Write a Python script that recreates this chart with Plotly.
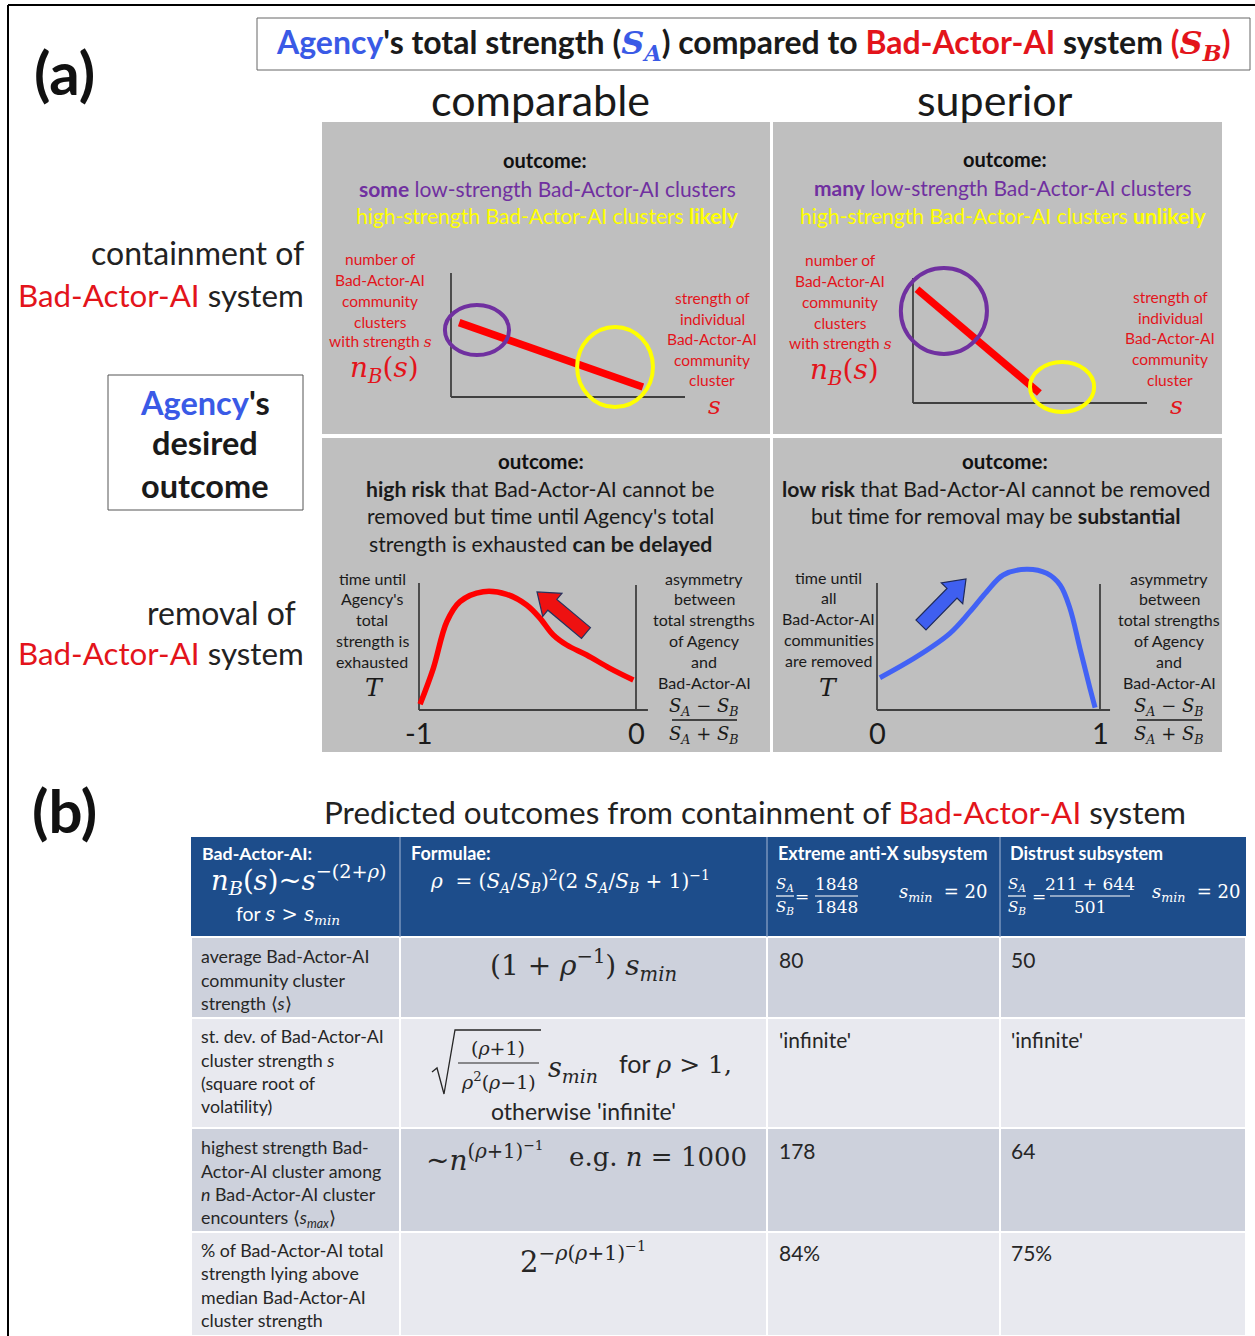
import math
import plotly.graph_objects as go

W, H = 1255, 1336
SANS = "Lato"
SERIF = "DejaVu Serif"
RED_T = "#e3141b"
RED = "#ff0000"
BLUE_T = "#3a5ae6"
BLUE = "#4262f5"
PURPLE = "#7030a0"
YELLOW = "#ffff00"
DARK = "#1a1a1a"
AXC = "#404040"
GRAY_PANEL = "#bfbfbf"
NAVY = "#1d4d8b"
ROW_DARK = "#cdd1dc"
ROW_LIGHT = "#e8e9ef"

# ---------------- data ----------------
# containment panels: n_B(s) vs s (schematic straight lines)
cmp_s = [0.35, 8.2]
cmp_nB = [6.0, 0.8]
sup_s = [0.17, 5.4]
sup_nB = [9.1, 0.8]
# highlight ellipses [x0, x1, y0, y1] in panel data units
cmp_low = [-0.26, 2.48, 3.38, 7.42]
cmp_high = [5.39, 8.63, -0.81, 5.65]
sup_low = [-0.52, 3.16, 3.92, 10.8]
sup_high = [5.0, 7.74, -0.72, 3.28]

# removal panels: T vs asymmetry (S_A-S_B)/(S_A+S_B)
cmp_asym = [-0.995, -0.934, -0.872, -0.811, -0.704, -0.596, -0.504, -0.442, -0.381, -0.319, -0.227, -0.120, -0.012]
cmp_T = [0.45, 3.28, 6.95, 8.53, 9.31, 9.11, 8.27, 7.22, 5.91, 5.12, 4.33, 3.28, 2.36]
sup_asym = [0.013, 0.178, 0.327, 0.417, 0.492, 0.566, 0.671, 0.761, 0.821, 0.865, 0.910, 0.955, 0.978]
sup_T = [2.54, 4.20, 6.04, 7.74, 9.31, 10.63, 11.08, 10.76, 9.84, 8.01, 4.86, 1.71, 0.18]
cmp_ticks = [-1, 0]
sup_ticks = [0, 1]

# table (b)
row_labels = [
    ["average Bad-Actor-AI", "community cluster", "strength ⟨<i>s</i>⟩"],
    ["st. dev. of Bad-Actor-AI", "cluster strength <i>s</i>", "(square root of", "volatility)"],
    ["highest strength Bad-", "Actor-AI cluster among", "<i>n</i> Bad-Actor-AI cluster", "encounters ⟨<i>s<sub>max</sub></i>⟩"],
    ["% of Bad-Actor-AI total", "strength lying above", "median Bad-Actor-AI", "cluster strength"],
]
extreme_vals = ["80", "'infinite'", "178", "84%"]
distrust_vals = ["50", "'infinite'", "64", "75%"]
extreme_ratio = ["1848", "1848"]
distrust_ratio = ["211 + 644", "501"]
s_min = [20, 20]

# ---------------- helpers ----------------
fig = go.Figure()
ann, shp = [], []


def t(x, y, text, size=18, color=DARK, anchor="center", family=SANS, bold=False):
    if bold:
        text = f"<b>{text}</b>"
    ann.append(dict(x=x / W, y=1 - y / H, xref="paper", yref="paper", text=text, showarrow=False,
                    xanchor=anchor, yanchor="middle", align=anchor if anchor != "center" else "center",
                    font=dict(size=size, color=color, family=family)))


def rect(x0, y0, x1, y1, fill=None, line=None, lw=1, layer="below"):
    shp.append(dict(type="rect", xref="paper", yref="paper", x0=x0 / W, x1=x1 / W,
                    y0=1 - y1 / H, y1=1 - y0 / H, fillcolor=fill or "rgba(0,0,0,0)",
                    line=dict(color=line or "rgba(0,0,0,0)", width=lw), layer=layer))


def seg(x0, y0, x1, y1, color, lw=1):
    shp.append(dict(type="line", xref="paper", yref="paper", x0=x0 / W, x1=x1 / W,
                    y0=1 - y0 / H, y1=1 - y1 / H, line=dict(color=color, width=lw), layer="above"))


def pth(points, fill=None, line="#000", lw=1, closed=True):
    d = "M " + " L ".join(f"{x / W:.5f},{1 - y / H:.5f}" for x, y in points)
    if closed:
        d += " Z"
    shp.append(dict(type="path", xref="paper", yref="paper", path=d,
                    fillcolor=fill or "rgba(0,0,0,0)", line=dict(color=line, width=lw), layer="above"))


def block_arrow(tail, tip, fill, line, w=7, hw=15, hl=20):
    dx, dy = tip[0] - tail[0], tip[1] - tail[1]
    L = math.hypot(dx, dy)
    ux, uy = dx / L, dy / L
    nx, ny = -uy, ux
    nk = (tip[0] - ux * hl, tip[1] - uy * hl)
    pts = [(tail[0] + nx * w, tail[1] + ny * w), (nk[0] + nx * w, nk[1] + ny * w),
           (nk[0] + nx * hw, nk[1] + ny * hw), tip, (nk[0] - nx * hw, nk[1] - ny * hw),
           (nk[0] - nx * w, nk[1] - ny * w), (tail[0] - nx * w, tail[1] - ny * w)]
    pth(pts, fill=fill, line=line, lw=1.2)


def serif(s):
    return f'<span style="font-family:{SERIF}">{s}</span>'


def red(s):
    return f'<span style="color:{RED_T}">{s}</span>'


def blue(s):
    return f'<span style="color:{BLUE_T}">{s}</span>'


# ---------------- frame & headings ----------------
seg(8, 5, W, 5, "#000", 2)
seg(8, 5, 8, H, "#000", 2)

t(64, 72, "(a)", 60, "#111", bold=True)
t(64, 810, "(b)", 60, "#111", bold=True)

rect(257, 18, 1250, 70, line="#666", lw=1)
title = (blue("Agency") + "'s total strength (" +
         f'<span style="color:{BLUE_T};font-family:{SERIF}"><i>S<sub>A</sub></i></span>) compared to ' +
         red("Bad-Actor-AI") + " system " +
         f'<span style="color:{RED_T}">(<span style="font-family:{SERIF}"><i>S<sub>B</sub></i></span>)</span>')
t(753, 44, title, 32, "#1a1a1a", bold=True)

t(540, 100, "comparable", 43, "#1a1a1a")
t(995, 100, "superior", 43, "#1a1a1a")

t(306, 253, "containment of", 32, "#222", anchor="right")
t(306, 295, red("Bad-Actor-AI") + " system", 31.3, "#222", anchor="right")
t(298, 612, "removal of", 32, "#222", anchor="right")
t(306, 653, red("Bad-Actor-AI") + " system", 31.3, "#222", anchor="right")

rect(108, 375, 303, 510, line="#555", lw=1)
t(205, 402, blue("Agency") + "'s", 32.5, "#1a1a1a", bold=True)
t(205, 442, "desired", 32.5, "#1a1a1a", bold=True)
t(205, 485, "outcome", 32.5, "#1a1a1a", bold=True)

# gray panels
rect(322, 122, 770, 434, fill=GRAY_PANEL)
rect(773, 122, 1222, 434, fill=GRAY_PANEL)
rect(322, 438, 770, 752, fill=GRAY_PANEL)
rect(773, 438, 1222, 752, fill=GRAY_PANEL)

# panel 1 texts
t(545, 160, "outcome:", 20, "#111", bold=True)
t(547, 188, '<b>some</b> low-strength Bad-Actor-AI clusters', 21, PURPLE)
t(547, 215, 'high-strength Bad-Actor-AI clusters <b>likely</b>', 21, YELLOW)
for i, s in enumerate(["number of", "Bad-Actor-AI", "community", "clusters"]):
    t(380, 259 + 21 * i, s, 15.5, RED_T)
t(380, 342, "with strength " + serif("<i>s</i>"), 15.5, RED_T)
t(384, 370, "<i>n<sub>B</sub></i>(<i>s</i>)", 28, RED_T, family=SERIF)
for i, s in enumerate(["strength of", "individual", "Bad-Actor-AI", "community", "cluster"]):
    t(712, 298 + 20.5 * i, s, 15.5, RED_T)
t(714, 405, "<i>s</i>", 25, RED_T, family=SERIF)

# panel 2 texts
t(1005, 159, "outcome:", 20, "#111", bold=True)
t(1003, 187, '<b>many</b> low-strength Bad-Actor-AI clusters', 21, PURPLE)
t(1003, 215, 'high-strength Bad-Actor-AI clusters <b>unlikely</b>', 21, YELLOW)
for i, s in enumerate(["number of", "Bad-Actor-AI", "community", "clusters"]):
    t(840, 260 + 21 * i, s, 15.5, RED_T)
t(840, 344, "with strength " + serif("<i>s</i>"), 15.5, RED_T)
t(844, 372, "<i>n<sub>B</sub></i>(<i>s</i>)", 28, RED_T, family=SERIF)
for i, s in enumerate(["strength of", "individual", "Bad-Actor-AI", "community", "cluster"]):
    t(1170, 297 + 20.7 * i, s, 15.5, RED_T)
t(1176, 405, "<i>s</i>", 25, RED_T, family=SERIF)

# panel 3 texts
t(541, 461, "outcome:", 20.5, "#111", bold=True)
t(540, 489, "<b>high risk</b> that Bad-Actor-AI cannot be", 21.2, "#1a1a1a")
t(540, 516, "removed but time until Agency's total", 21.2, "#1a1a1a")
t(540, 544, "strength is exhausted <b>can be delayed</b>", 21.2, "#1a1a1a")
for i, s in enumerate(["time until", "Agency's", "total", "strength is", "exhausted"]):
    t(372, 578 + 20.8 * i, s, 16, "#1a1a1a")
t(374, 688, "<i>T</i>", 25, "#1a1a1a", family=SERIF)
for i, s in enumerate(["asymmetry", "between", "total strengths", "of Agency", "and", "Bad-Actor-AI"]):
    t(704, 578 + 20.8 * i, s, 16, "#1a1a1a")
t(704, 707, "<i>S<sub>A</sub></i> − <i>S<sub>B</sub></i>", 18, "#1a1a1a", family=SERIF)
seg(672, 720, 737, 720, "#1a1a1a", 1.3)
t(704, 735, "<i>S<sub>A</sub></i> + <i>S<sub>B</sub></i>", 18, "#1a1a1a", family=SERIF)

# panel 4 texts
t(1005, 461, "outcome:", 20.5, "#111", bold=True)
t(996, 489, "<b>low risk</b> that Bad-Actor-AI cannot be removed", 21.2, "#1a1a1a")
t(996, 516, "but time for removal may be <b>substantial</b>", 21.2, "#1a1a1a")
for i, s in enumerate(["time until", "all", "Bad-Actor-AI", "communities", "are removed"]):
    t(829, 577 + 20.8 * i, s, 16, "#1a1a1a")
t(829, 688, "<i>T</i>", 25, "#1a1a1a", family=SERIF)
for i, s in enumerate(["asymmetry", "between", "total strengths", "of Agency", "and", "Bad-Actor-AI"]):
    t(1169, 578 + 20.8 * i, s, 16, "#1a1a1a")
t(1169, 707, "<i>S<sub>A</sub></i> − <i>S<sub>B</sub></i>", 18, "#1a1a1a", family=SERIF)
seg(1137, 720, 1202, 720, "#1a1a1a", 1.3)
t(1169, 735, "<i>S<sub>A</sub></i> + <i>S<sub>B</sub></i>", 18, "#1a1a1a", family=SERIF)

# arrows
block_arrow((586, 633), (537, 592), "#ee1111", "#27325e")
block_arrow((921, 625), (966, 579), "#3f5ff0", "#1f2a5a")

# ---------------- mini charts ----------------
layout_axes = {}


def mini(idx, box, xmap, ymap):
    """box = (left, top, right, bottom) pixels; xmap=(d0,p0,d1,p1); ymap=(d0,p0,d1,p1)"""
    l, tp, r, b = box
    d0, p0, d1, p1 = xmap
    sc = (p1 - p0) / (d1 - d0)
    xr = [d0 - (p0 - l) / sc, d0 + (r - p0) / sc]
    e0, q0, e1, q1 = ymap
    sy = (q0 - q1) / (e1 - e0)
    yr = [e0 - (b - q0) / sy, e0 + (q0 - tp) / sy]
    sfx = "" if idx == 1 else str(idx)
    layout_axes["xaxis" + sfx] = dict(domain=[l / W, r / W], range=xr, visible=False, fixedrange=True)
    layout_axes["yaxis" + sfx] = dict(domain=[1 - b / H, 1 - tp / H], range=yr, visible=False,
                                      anchor="x" + sfx, fixedrange=True)
    return "x" + sfx, "y" + sfx


def line(xa, ya, xs, ys, color, width, shape="linear"):
    ld = dict(color=color, width=width, shape=shape)
    if shape == "spline":
        ld["smoothing"] = 1.0
    fig.add_trace(go.Scatter(x=xs, y=ys, mode="lines", xaxis=xa, yaxis=ya, hoverinfo="skip",
                             line=ld, showlegend=False))


def ell(xa, ya, e, color):
    shp.append(dict(type="circle", xref=xa, yref=ya, x0=e[0], x1=e[1], y0=e[2], y1=e[3],
                    line=dict(color=color, width=4), layer="above"))


# panel 1
xa, ya = mini(1, (330, 240, 765, 430), (0, 451, 10, 685), (0, 397, 10, 273))
line(xa, ya, [0, 0], [0, 10], AXC, 1.8)
line(xa, ya, [0, 10], [0, 0], AXC, 1.8)
line(xa, ya, cmp_s, cmp_nB, RED, 7.5)
ell(xa, ya, cmp_low, PURPLE)
ell(xa, ya, cmp_high, YELLOW)

# panel 2
xa, ya = mini(2, (780, 240, 1218, 430), (0, 913, 10, 1147), (0, 403, 10, 278))
line(xa, ya, [0, 0], [0, 10], AXC, 1.8)
line(xa, ya, [0, 10], [0, 0], AXC, 1.8)
line(xa, ya, sup_s, sup_nB, RED, 7.5)
ell(xa, ya, sup_low, PURPLE)
ell(xa, ya, sup_high, YELLOW)

# panel 3
xa, ya = mini(3, (330, 560, 765, 750), (-1, 419, 0, 636), (0, 710, 10, 583))
line(xa, ya, [-1, -1], [0, 10], AXC, 1.8)
line(xa, ya, [0, 0], [0, 9.84], AXC, 1.8)
line(xa, ya, [-1, 0.055], [0, 0], AXC, 1.8)
line(xa, ya, cmp_asym, cmp_T, RED, 5.5, "spline")
for v in cmp_ticks:
    ann.append(dict(x=v, y=-1.75, xref=xa, yref=ya, text=str(v), showarrow=False,
                    font=dict(size=29, color="#1a1a1a", family=SANS)))

# panel 4
xa, ya = mini(4, (780, 560, 1218, 750), (0, 877, 1, 1100), (0, 710, 10, 583))
line(xa, ya, [0, 0], [0, 10], AXC, 1.8)
line(xa, ya, [1, 1], [0, 9.92], AXC, 1.8)
line(xa, ya, [0, 1.045], [0, 0], AXC, 1.8)
line(xa, ya, sup_asym, sup_T, BLUE, 5, "spline")
for v in sup_ticks:
    ann.append(dict(x=v, y=-1.75, xref=xa, yref=ya, text=str(v), showarrow=False,
                    font=dict(size=29, color="#1a1a1a", family=SANS)))

# ---------------- part (b): table ----------------
t(755, 812, "Predicted outcomes from containment of " + red("Bad-Actor-AI") + " system", 31.5, "#222")

cols = [191, 400, 767, 1000, 1246]
rows = [837, 937, 1018, 1128, 1232, 1336]
rect(cols[0], rows[0], cols[-1], rows[1], fill=NAVY)
for c in cols[1:-1]:
    seg(c, rows[0], c, rows[1], "#8fa6c9", 1.2)
for i in range(4):
    for j in range(4):
        rect(cols[j], rows[i + 1], cols[j + 1], rows[i + 2],
             fill=ROW_DARK if i % 2 == 0 else ROW_LIGHT, line="#ffffff", lw=2)

WH = "#ffffff"
# header col 1
t(200, 853, "Bad-Actor-AI:", 17.8, WH, anchor="left", bold=True)
t(299, 880, "<i>n<sub>B</sub></i>(<i>s</i>)~<i>s</i><sup>−(2+<i>ρ</i>)</sup>", 27.5, WH, family=SERIF)
t(288, 915, "for " + serif("<i>s</i> > <i>s<sub>min</sub></i>"), 19.5, WH)
# header col 2
t(409, 853, "Formulae:", 18, WH, anchor="left", bold=True)
t(428, 881, "<i>ρ</i>  = (<i>S<sub>A</sub></i>/<i>S<sub>B</sub></i>)<sup>2</sup>(2 <i>S<sub>A</sub></i>/<i>S<sub>B</sub></i> + 1)<sup>−1</sup>",
  20, WH, anchor="left", family=SERIF)
# header col 3
t(776, 853, "Extreme anti-X subsystem", 18, WH, anchor="left", bold=True)
t(785, 884, "<i>S<sub>A</sub></i>", 15, WH, family=SERIF)
seg(776, 896, 794, 896, WH, 1.2)
t(785, 907, "<i>S<sub>B</sub></i>", 15, WH, family=SERIF)
t(802, 896, "=", 17, WH, family=SERIF)
t(836, 884, extreme_ratio[0], 17, WH, family=SERIF)
seg(815, 896, 858, 896, WH, 1.2)
t(836, 907, extreme_ratio[1], 17, WH, family=SERIF)
t(897, 893, f"<i>s<sub>min</sub></i>  = {s_min[0]}", 18, WH, anchor="left", family=SERIF)
# header col 4
t(1008, 853, "Distrust subsystem", 18, WH, anchor="left", bold=True)
t(1017, 884, "<i>S<sub>A</sub></i>", 15, WH, family=SERIF)
seg(1008, 896, 1026, 896, WH, 1.2)
t(1017, 907, "<i>S<sub>B</sub></i>", 15, WH, family=SERIF)
t(1039, 896, "=", 17, WH, family=SERIF)
t(1090, 884, distrust_ratio[0], 17, WH, family=SERIF)
seg(1050, 896, 1130, 896, WH, 1.2)
t(1090, 907, distrust_ratio[1], 17, WH, family=SERIF)
t(1150, 893, f"<i>s<sub>min</sub></i>  = {s_min[1]}", 18, WH, anchor="left", family=SERIF)

# body labels
TX = "#262626"
label_y = [[956, 980, 1003], [1036, 1060, 1083, 1106], [1147, 1171, 1194, 1218], [1250, 1273, 1297, 1320]]
for lines, ys in zip(row_labels, label_y):
    for s, y in zip(lines, ys):
        t(199, y, s, 17.8, TX, anchor="left")

# formulas
t(583, 966, "(1 + <i>ρ</i><sup>−1</sup>) <i>s<sub>min</sub></i>", 28, TX, family=SERIF)
# sqrt formula
pth([(432, 1072), (437, 1068), (444, 1094), (455, 1030), (541, 1030)], line=TX, lw=1.3, closed=False)
t(498, 1048, "(<i>ρ</i>+1)", 19, TX, family=SERIF)
seg(458, 1063, 539, 1063, TX, 1.2)
t(498, 1081, "<i>ρ</i><sup>2</sup>(<i>ρ</i>−1)", 19, TX, family=SERIF)
t(573, 1069, "<i>s<sub>min</sub></i>", 27, TX, family=SERIF)
t(675, 1063, "for " + serif("<i>ρ</i> > 1,"), 25, TX)
t(583, 1111, "otherwise 'infinite'", 23, TX)
t(484, 1157, "~<i>n</i><sup>(<i>ρ</i>+1)<sup>−1</sup></sup>", 28, TX, family=SERIF)
t(658, 1157, "e.g. <i>n</i> = 1000", 26, TX, family=SERIF)
t(583, 1258, "2<sup>−<i>ρ</i>(<i>ρ</i>+1)<sup>−1</sup></sup>", 29, TX, family=SERIF)

# values
val_y = [959, 1039, 1150, 1252]
for v, y in zip(extreme_vals, val_y):
    t(777, y, v, 21, TX, anchor="left")
for v, y in zip(distrust_vals, val_y):
    t(1009, y, v, 21, TX, anchor="left")

fig.update_layout(width=W, height=H, margin=dict(l=0, r=0, t=0, b=0),
                  paper_bgcolor="#ffffff", plot_bgcolor="rgba(0,0,0,0)",
                  annotations=ann, shapes=shp, showlegend=False, **layout_axes)
fig.write_html("out.html", config={"displayModeBar": False},
               post_script="document.body.style.margin='0px';document.body.style.overflow='hidden';")
